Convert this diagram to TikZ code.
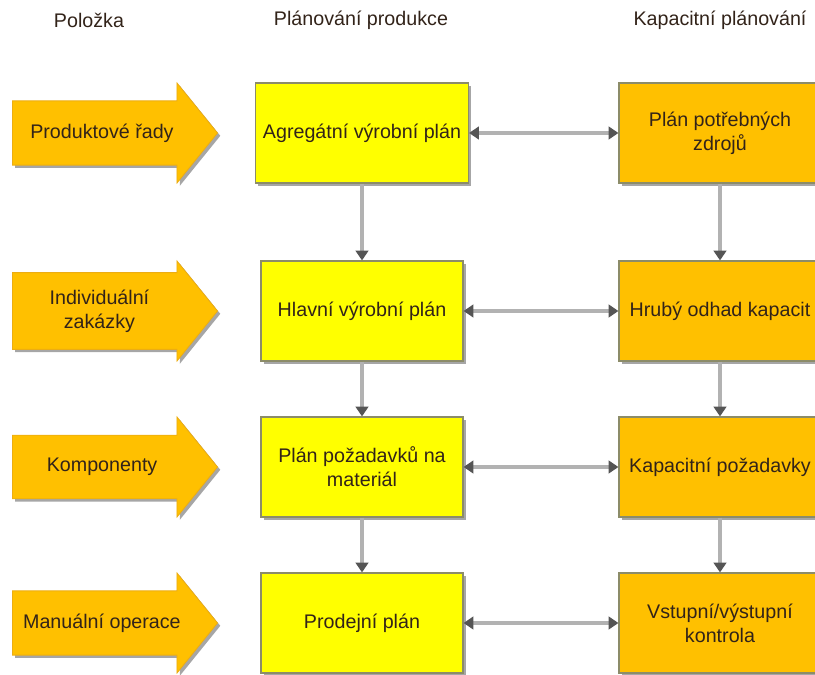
\documentclass[tikz,border=0pt]{standalone}
\usepackage{fontspec}
\setmainfont{Liberation Sans}
\usepackage{xcolor}
\usepackage{tikz}
\definecolor{planyellow}{RGB}{255, 255, 0}
\definecolor{capaorange}{RGB}{255, 192, 0}
\definecolor{edgegray}{RGB}{140, 140, 105}
\definecolor{linkgray}{RGB}{178, 178, 178}
\definecolor{tipgray}{RGB}{85, 85, 85}
\definecolor{textdark}{RGB}{50, 35, 25}
\usetikzlibrary{shapes.arrows, arrows.meta, shadows, positioning}

\begin{document}
\begin{tikzpicture}[
    x=0.025cm, y=-0.025cm,
    every node/.style={text=textdark, font=\fontsize{14}{17}\selectfont},
    shade/.style={drop shadow={shadow xshift=2pt, shadow yshift=-2pt, opacity=0.35, fill=black}},
    box/.style={rectangle, draw=edgegray, line width=0.8pt, minimum width=5.05cm, minimum height=2.5cm, align=center, shade},
    prodbox/.style={box, fill=planyellow},
    capbox/.style={box, fill=capaorange},
    item/.style={single arrow, draw=capaorange!70!brown, line width=0.6pt, fill=capaorange,
        minimum height=5.125cm, minimum width=2.5cm, single arrow head extend=0.2cm,
        single arrow tip angle=102, align=center, anchor=tail, shade},
    link/.style={draw=linkgray, line width=2.5pt, -{Triangle[width=9pt, length=7pt, color=tipgray]}},
    twoway/.style={link, {Triangle[width=9pt, length=7pt, color=tipgray]}-{Triangle[width=9pt, length=7pt, color=tipgray]}}
]
    \useasboundingbox (0, 0) rectangle (815, 675);

    % column headings
    \node (hitem) at (89, 20) {Položka};
    \node (hprod) at (361, 20) {Plánování produkce};
    \node (hcap) at (720, 20) {Kapacitní plánování};

    % inputs
    \node[item] (i1) at (12, 133) {Produktové řady};
    \node[item] (i2) at (12, 311) {Individuální\\zakázky};
    \node[item] (i3) at (12, 467) {Komponenty};
    \node[item] (i4) at (12, 623) {Manuální operace};

    % production planning
    \node[prodbox, minimum width=5.325cm] (p1) at (362, 133) {Agregátní výrobní plán};
    \node[prodbox] (p2) at (362, 311) {Hlavní výrobní plán};
    \node[prodbox] (p3) at (362, 467) {Plán požadavků na\\materiál};
    \node[prodbox] (p4) at (362, 623) {Prodejní plán};

    % capacity planning
    \node[capbox] (c1) at (720, 133) {Plán potřebných\\zdrojů};
    \node[capbox] (c2) at (720, 311) {Hrubý odhad kapacit};
    \node[capbox] (c3) at (720, 467) {Kapacitní požadavky};
    \node[capbox] (c4) at (720, 623) {Vstupní/výstupní\\kontrola};

    \draw[link] (p1) -- (p2);
    \draw[link] (p2) -- (p3);
    \draw[link] (p3) -- (p4);
    \draw[link] (c1) -- (c2);
    \draw[link] (c2) -- (c3);
    \draw[link] (c3) -- (c4);

    \draw[twoway] (p1) -- (c1);
    \draw[twoway] (p2) -- (c2);
    \draw[twoway] (p3) -- (c3);
    \draw[twoway] (p4) -- (c4);
\end{tikzpicture}
\end{document}
